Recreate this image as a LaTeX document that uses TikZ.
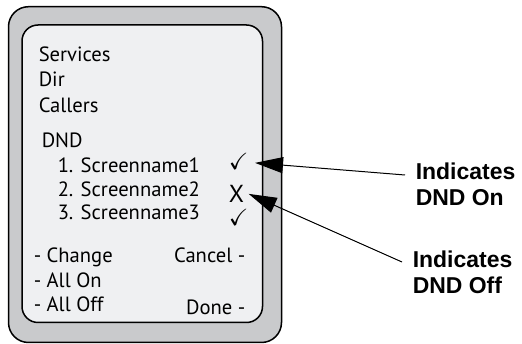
\documentclass[tikz,border=0pt]{standalone}
\usepackage{fontspec}
\usepackage{amssymb}
\setmainfont{PT Sans}
\newfontfamily\labelfont{Liberation Sans}
\usetikzlibrary{
    arrows.meta % Big filled heads on the pointers.
}

\definecolor{casegray}{HTML}{C9CACC}
\definecolor{screengray}{HTML}{EFF0F2}

\tikzset{
    menutext/.style = {inner sep = 0pt, font = \fontsize{17.6}{20}\selectfont},
    marktext/.style = {inner sep = 0pt, font = \fontsize{20}{22}\selectfont},
    calltext/.style = {inner sep = 0pt, align = left,
        font = \labelfont\bfseries\fontsize{19.6}{22.6}\selectfont},
    pointer/.style = {line width = 0.03cm,
        -{Triangle[length = 0.84cm, width = 0.48cm]}}
}

\begin{document}
\begin{tikzpicture}[%
        x = 0.03cm,
        y = -0.03cm,
        line width = 0.045cm,
        line join = round
    ]

        % Fix the size of the page.
        \useasboundingbox (0, 0) rectangle (522, 344);

        % The phone case and its screen.
        \draw[fill = casegray, rounded corners = 0.6cm] (8.5, 6.7) rectangle (281.5, 342.5);
        \draw[fill = screengray, rounded corners = 0.48cm] (22, 25) rectangle (262.5, 322.5);

        % Main menu lines.
        \node[menutext, anchor = base west] (services) at (38, 61.7) {Services};
        \node[menutext, anchor = base west] (dir) at (38, 86.7) {Dir};
        \node[menutext, anchor = base west] (callers) at (38, 113) {Callers};

        % The DND list.
        \node[menutext, anchor = base west] (dnd) at (41, 148) {DND};
        \node[menutext, anchor = base west] (scr1) at (57, 173) {1. Screenname1};
        \node[menutext, anchor = base west] (scr2) at (57, 197) {2. Screenname2};
        \node[menutext, anchor = base west] (scr3) at (57, 220) {3. Screenname3};

        % Marks for each entry.
        \node[marktext, anchor = base west] (chk1) at (228, 170) {$\checkmark$};
        \node[marktext, anchor = base west, font = \fontsize{21}{23}\selectfont] (xmark) at (228, 202.5) {X};
        \node[marktext, anchor = base west] (chk3) at (228, 226) {$\checkmark$};

        % Soft keys.
        \node[menutext, anchor = base west] (change) at (33, 263) {- Change};
        \node[menutext, anchor = base east] (cancel) at (246, 263) {Cancel -};
        \node[menutext, anchor = base west] (allon) at (33, 288) {- All On};
        \node[menutext, anchor = base west] (alloff) at (33, 311.7) {- All Off};
        \node[menutext, anchor = base east] (done) at (246, 315) {Done -};

        % Callouts on the right.
        \node[calltext, anchor = north west] (dndon) at (415, 162) {Indicates\\DND On};
        \node[calltext, anchor = north west] (dndoff) at (412, 250) {Indicates\\DND Off};

        % Tails of the pointers.
        \coordinate (ontail) at (405, 175);
        \coordinate (offtail) at (402, 262);

        % Point at the marks.
        \draw[pointer] (ontail) to ([xshift = 0.18cm, yshift = -0.03cm]chk1.east);
        \draw[pointer] (offtail) to ([xshift = 0.12cm]xmark.east);
    \end{tikzpicture}
\end{document}
